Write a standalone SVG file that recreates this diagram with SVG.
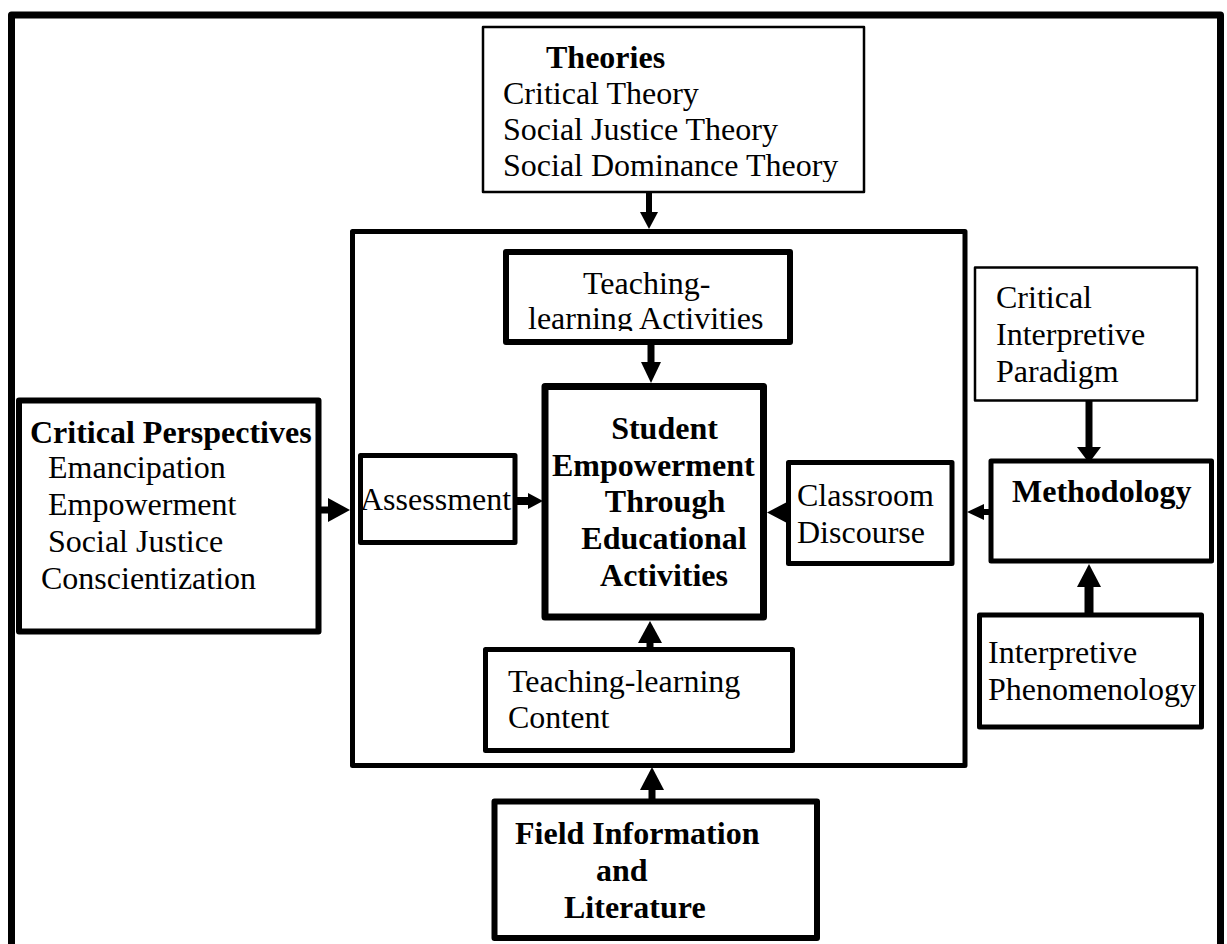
<svg xmlns="http://www.w3.org/2000/svg" width="1227" height="944" viewBox="0 0 1227 944">
  <style>
    .box { fill: #fff; stroke: #000; stroke-linejoin: round; }
    .w2 { stroke-width: 2.5; }
    .w5 { stroke-width: 5; }
    .w6 { stroke-width: 6; }
    .w7 { stroke-width: 7; }
    .t { font-family: "Liberation Serif", "Times New Roman", serif; font-size: 32px; fill: #000; }
    .b { font-weight: bold; }
    .mid { text-anchor: middle; }
    .shaft { stroke: #000; fill: none; }
    .head { fill: #000; stroke: none; }
  </style>
  <defs>
    <clipPath id="clip-theories"><rect x="483" y="27" width="381" height="155"/></clipPath>
    <clipPath id="clip-tla"><rect x="506" y="252" width="284" height="79"/></clipPath>
  </defs>

  <rect width="1227" height="944" fill="#fff"/>

  <!-- outer frame, runs past the bottom edge -->
  <rect id="frame" class="box w7" x="11.5" y="15" width="1209" height="1000" fill="none"/>

  <!-- inner study frame -->
  <rect id="core-frame" class="box w5" x="352.5" y="231.5" width="612.5" height="534"/>

  <g id="theories">
    <rect class="box w2" x="483" y="27" width="381" height="165"/>
    <g clip-path="url(#clip-theories)">
      <text class="t b" x="546" y="68">Theories</text>
      <text class="t" x="503" y="104">Critical Theory</text>
      <text class="t" x="503" y="140">Social Justice Theory</text>
      <text class="t" x="503" y="176">Social Dominance Theory</text>
    </g>
  </g>

  <g id="tl-activities">
    <rect class="box w6" x="506" y="252" width="284" height="90"/>
    <g clip-path="url(#clip-tla)">
      <text class="t" x="583" y="294">Teaching-</text>
      <text class="t" x="528" y="329">learning Activities</text>
    </g>
  </g>

  <g id="critical-perspectives">
    <rect class="box w6" x="19" y="400.5" width="299.5" height="231"/>
    <text class="t b" x="30" y="443">Critical Perspectives</text>
    <text class="t" x="48" y="478">Emancipation</text>
    <text class="t" x="48" y="515">Empowerment</text>
    <text class="t" x="48" y="552">Social Justice</text>
    <text class="t" x="41" y="589">Conscientization</text>
  </g>

  <g id="assessment">
    <rect class="box w5" x="360.5" y="455.5" width="154.5" height="87"/>
    <text class="t" x="360" y="510">Assessment</text>
  </g>

  <g id="student-empowerment">
    <rect class="box w7" x="545" y="386.5" width="218.5" height="230.5"/>
    <text class="t b mid" x="664.5" y="439">Student</text>
    <text class="t b" x="552" y="476">Empowerment</text>
    <text class="t b mid" x="665" y="512">Through</text>
    <text class="t b mid" x="664" y="549">Educational</text>
    <text class="t b mid" x="664" y="586">Activities</text>
  </g>

  <g id="classroom-discourse">
    <rect class="box w5" x="788.5" y="462.5" width="163.5" height="101"/>
    <text class="t" x="797" y="506">Classroom</text>
    <text class="t" x="797" y="543">Discourse</text>
  </g>

  <g id="tl-content">
    <rect class="box w5" x="485.5" y="649.5" width="307" height="101"/>
    <text class="t" x="508" y="692">Teaching-learning</text>
    <text class="t" x="508" y="728">Content</text>
  </g>

  <g id="paradigm">
    <rect class="box w2" x="975" y="267.5" width="222" height="133"/>
    <text class="t" x="996" y="308">Critical</text>
    <text class="t" x="996" y="345">Interpretive</text>
    <text class="t" x="996" y="382">Paradigm</text>
  </g>

  <g id="methodology">
    <rect class="box w5" x="991" y="461" width="220.5" height="100"/>
    <text class="t b" x="1012" y="502">Methodology</text>
  </g>

  <g id="phenomenology">
    <rect class="box w5" x="979.5" y="615" width="222" height="112"/>
    <text class="t" x="988" y="663">Interpretive</text>
    <text class="t" x="988" y="700">Phenomenology</text>
  </g>

  <g id="field-information">
    <rect class="box w6" x="494.5" y="801.5" width="322.5" height="136.5"/>
    <text class="t b" x="515" y="844">Field Information</text>
    <text class="t b" x="596" y="881">and</text>
    <text class="t b" x="564" y="918">Literature</text>
  </g>

  <g id="connectors">
    <!-- theories -> core frame -->
    <line class="shaft" x1="649" y1="192" x2="649" y2="213" stroke-width="6"/>
    <polygon class="head" points="640,212 658,212 649,229"/>
    <!-- activities -> student empowerment -->
    <line class="shaft" x1="651" y1="344" x2="651" y2="363" stroke-width="7"/>
    <polygon class="head" points="641,362 661,362 651,383"/>
    <!-- critical perspectives -> core frame -->
    <line class="shaft" x1="321" y1="510" x2="330" y2="510" stroke-width="7"/>
    <polygon class="head" points="328,498 328,522 350,510"/>
    <!-- assessment -> student empowerment -->
    <line class="shaft" x1="517" y1="501" x2="529" y2="501" stroke-width="8"/>
    <polygon class="head" points="528,493 528,509 543,501"/>
    <!-- classroom discourse -> student empowerment -->
    <polygon class="head" points="787,502 787,523 767,512.5"/>
    <!-- methodology -> core frame -->
    <line class="shaft" x1="983" y1="512" x2="991" y2="512" stroke-width="6"/>
    <polygon class="head" points="984,504 984,520 967,512"/>
    <!-- paradigm -> methodology -->
    <line class="shaft" x1="1089" y1="401" x2="1089" y2="448" stroke-width="7"/>
    <polygon class="head" points="1077,447 1101,447 1089,463"/>
    <!-- phenomenology -> methodology -->
    <line class="shaft" x1="1089" y1="586" x2="1089" y2="615" stroke-width="9"/>
    <polygon class="head" points="1077,587 1101,587 1089,564"/>
    <!-- content -> student empowerment -->
    <line class="shaft" x1="650" y1="642" x2="650" y2="650" stroke-width="7"/>
    <polygon class="head" points="638,643 662,643 650,621"/>
    <!-- field information -> core frame -->
    <line class="shaft" x1="652" y1="789" x2="652" y2="802" stroke-width="7"/>
    <polygon class="head" points="640,790 664,790 652,767"/>
  </g>
</svg>
